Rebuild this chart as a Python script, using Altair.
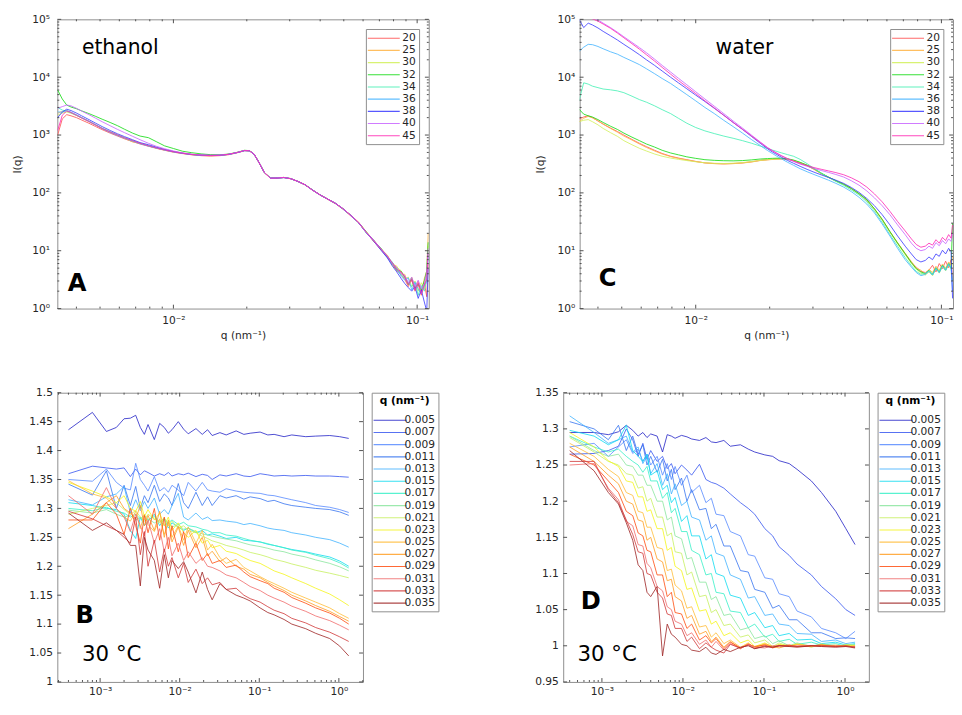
import altair as alt
import pandas as pd

FONT = "DejaVu Sans"
TXT = "#262626"
FRAME = "#8c8c8c"
TICK = "#4d4d4d"

# ---------------- data: SAXS curves (panels A, C) ----------------
Q = [0.00335, 0.0035, 0.00365, 0.0038, 0.004, 0.0042, 0.0045, 0.0048, 0.0051, 0.0055,
     0.0059, 0.0063, 0.0068, 0.0073, 0.0079, 0.0085, 0.0092, 0.01, 0.0109, 0.0119,
     0.013, 0.0142, 0.0155, 0.0169, 0.0183, 0.0196, 0.0205, 0.0214, 0.0224, 0.0236,
     0.025, 0.0266, 0.0284, 0.0303, 0.0324, 0.0347, 0.0372, 0.04, 0.043, 0.0462,
     0.0497, 0.0534, 0.0574, 0.0617, 0.0663, 0.0712, 0.0755, 0.079, 0.0825, 0.086,
     0.089, 0.092, 0.095, 0.098, 0.101, 0.104, 0.107, 0.1095, 0.111]

TEMPS = ["20", "25", "30", "32", "34", "36", "38", "40", "45"]
TEMP_COLORS = ["#ff5050", "#ffb446", "#d2f05a", "#14dc14", "#46f0b4",
               "#46b4ff", "#3c3cff", "#c864ff", "#ff28b4"]

ETHANOL = {
    "20": [1000, 1900, 2250, 2150, 2000, 1820, 1600, 1400, 1240, 1080,
           960, 860, 770, 700, 640, 590, 545, 505, 478, 455,
           440, 432, 440, 458, 495, 535, 530, 468, 338, 224,
           179, 181, 185, 175, 157, 137, 111, 92, 77, 65,
           52, 40, 30.5, 21, 14.5, 10.3, 7.6, 5.8, 4.5, 3.9,
           3.2, 2.4, 3.1, 2.0, 2.6, 1.7, 2.8, 1.6, 6],
    "25": [2400, 2550, 2650, 2450, 2200, 1980, 1720, 1480, 1290, 1120,
           990, 880, 760, 720, 655, 595, 550, 510, 482, 458,
           446, 440, 446, 466, 500, 542, 534, 472, 342, 226,
           181, 182, 185, 177, 159, 139, 112, 93, 78, 66,
           53, 41, 31.5, 21.5, 15.2, 10.8, 8.3, 6.0, 5.4, 4.0,
           3.9, 2.6, 3.5, 2.3, 3.0, 1.9, 3.3, 4.5, 20],
    "30": [2200, 2400, 2500, 2380, 2180, 1980, 1720, 1500, 1310, 1140,
           1010, 905, 805, 725, 655, 605, 560, 520, 488, 465,
           452, 446, 450, 466, 502, 540, 536, 470, 341, 225,
           180, 180, 184, 176, 158, 138, 112, 92, 78, 66,
           53, 41, 31, 21, 15.4, 10.2, 8.4, 5.6, 5.2, 4.5,
           3.3, 3.5, 2.4, 3.0, 2.0, 2.8, 2.2, 3.8, 12],
    "32": [6000, 4200, 3300, 3050, 2850, 2620, 2350, 2100, 1880, 1650,
           1450, 1260, 1080, 960, 900, 770, 650, 585, 525, 495,
           472, 458, 455, 470, 504, 545, 538, 472, 343, 226,
           181, 181, 185, 176, 158, 138, 113, 92, 78, 66,
           53, 41, 31, 21.5, 14.8, 10.9, 7.8, 6.3, 4.6, 4.4,
           3.5, 2.6, 3.3, 2.2, 2.7, 2.1, 3.0, 4.5, 14],
    "34": [3000, 2700, 2600, 2420, 2200, 1990, 1730, 1500, 1310, 1140,
           1000, 900, 800, 715, 645, 598, 552, 512, 484, 460,
           448, 443, 447, 464, 499, 539, 534, 469, 339, 225,
           180, 181, 184, 176, 158, 138, 112, 92, 78, 66,
           52, 41, 31, 20.5, 15, 10.4, 7.9, 6.4, 4.7, 3.8,
           3.4, 2.8, 2.4, 2.9, 1.7, 2.5, 2.0, 3.2, 9],
    "36": [2500, 2500, 2650, 2480, 2240, 2000, 1730, 1490, 1290, 1110,
           980, 880, 785, 710, 648, 598, 552, 512, 482, 460,
           447, 442, 446, 463, 498, 538, 533, 468, 340, 225,
           180, 180, 184, 176, 158, 138, 112, 92, 78, 66,
           53, 40.5, 30.5, 21, 15.3, 10.6, 7.7, 5.9, 5.1, 3.6,
           3.1, 3.4, 2.1, 2.8, 2.2, 1.8, 2.6, 2.8, 8],
    "38": [2000, 2500, 2800, 2650, 2400, 2150, 1850, 1600, 1400, 1200,
           1050, 940, 830, 740, 680, 620, 565, 520, 486, 462,
           449, 444, 447, 464, 499, 539, 534, 470, 341, 225,
           180, 180, 184, 176, 158, 138, 112, 92, 78, 66,
           53, 41, 31, 20.8, 14.7, 10.1, 7.5, 5.5, 4.3, 3.3,
           2.7, 2.3, 2.0, 2.4, 1.5, 2.1, 1.3, 0.9, 5],
    "40": [2900, 3100, 3300, 3200, 2900, 2600, 2250, 1950, 1700, 1450,
           1250, 1100, 950, 830, 720, 640, 580, 530, 492, 466,
           452, 446, 449, 466, 501, 541, 536, 471, 342, 226,
           180, 181, 185, 176, 158, 138, 112, 92, 78, 66,
           53, 41, 31, 21, 15, 10.7, 8.1, 6.1, 4.9, 4.1,
           3.7, 2.8, 3.5, 2.4, 3.1, 2.2, 2.7, 4.2, 11],
    "45": [1200, 2200, 2600, 2450, 2200, 1980, 1720, 1490, 1300, 1130,
           1000, 895, 800, 720, 650, 600, 554, 514, 484, 461,
           449, 444, 447, 465, 500, 540, 535, 470, 340, 225,
           180, 180, 184, 176, 158, 138, 112, 92, 78, 66,
           53, 41, 31, 21, 15.1, 10.5, 8.0, 6.2, 4.8, 4.3,
           3.5, 2.6, 3.2, 2.1, 2.8, 1.8, 2.5, 3.3, 9],
}

WATER = {
    "20": [1900, 2050, 2150, 2000, 1750, 1550, 1320, 1150, 1000, 840,
           720, 630, 545, 480, 430, 400, 375, 350, 330, 322,
           318, 322, 330, 345, 365, 375, 380, 385, 385, 380,
           360, 330, 295, 255, 215, 185, 160, 140, 118, 96,
           75, 52, 34, 21, 13.5, 8.8, 6.3, 5.2, 4.4, 4.2,
           4.6, 5.6, 4.3, 6.0, 4.9, 6.6, 5.1, 7.0, 3],
    "25": [1700, 1950, 2100, 1980, 1760, 1540, 1300, 1120, 960, 820,
           700, 610, 530, 470, 425, 395, 370, 348, 330, 320,
           316, 320, 328, 342, 362, 372, 378, 384, 386, 382,
           362, 332, 297, 257, 216, 186, 161, 141, 119, 97,
           76, 53, 35, 21.5, 13.8, 9.0, 6.5, 5.0, 4.6, 3.9,
           4.8, 4.2, 5.4, 4.6, 5.9, 5.0, 6.4, 5.5, 8],
    "30": [1700, 1800, 1850, 1700, 1500, 1300, 1100, 950, 800, 680,
           590, 530, 470, 430, 400, 380, 362, 345, 332, 325,
           322, 326, 334, 348, 366, 376, 381, 386, 387, 384,
           365, 335, 300, 260, 218, 187, 162, 141, 119, 96,
           75, 52, 34, 21, 13.2, 8.5, 6.0, 4.8, 4.1, 3.8,
           4.3, 3.7, 4.9, 4.1, 5.3, 4.5, 5.7, 4.8, 6],
    "32": [2800, 2300, 2150, 2050, 1850, 1650, 1420, 1250, 1080, 920,
           800, 700, 620, 545, 490, 455, 420, 395, 375, 365,
           360, 358, 362, 372, 385, 392, 395, 398, 397, 390,
           370, 338, 302, 262, 220, 188, 162, 141, 119, 97,
           76, 53, 35, 21.5, 13.6, 8.9, 6.2, 4.9, 4.3, 4.0,
           4.6, 3.9, 5.1, 4.3, 5.6, 4.7, 6.0, 5.0, 30],
    "34": [3900, 8000, 7600, 7000, 6600, 6250, 6050, 5800, 5400, 4700,
           4100, 3700, 3200, 2750, 2350, 1950, 1600, 1350, 1180, 1060,
           960, 880, 800, 720, 645, 585, 550, 520, 490, 460,
           430, 380, 320, 265, 220, 185, 158, 135, 112, 92,
           70, 48, 31, 19, 12, 7.6, 5.5, 4.4, 3.9, 4.1,
           4.5, 3.8, 5.0, 4.2, 5.5, 4.6, 6.0, 5.0, 3],
    "36": [28000, 33000, 37000, 36500, 34000, 31000, 27500, 25000, 22000, 19000,
           16500, 14000, 11500, 9500, 7800, 6300, 5000, 3900, 3000, 2350,
           1800, 1400, 1080, 830, 660, 540, 480, 430, 385, 340,
           300, 262, 232, 208, 186, 166, 146, 126, 105, 84,
           64, 45, 29, 18, 11, 7.0, 5.2, 4.2, 3.7, 3.9,
           4.4, 3.8, 4.9, 4.2, 5.4, 4.6, 5.8, 4.9, 2],
    "38": [100000, 72000, 86000, 80000, 71000, 62000, 52000, 44000, 37000, 30000,
           24500, 20000, 16000, 12800, 10000, 8000, 6300, 4900, 3800, 2900,
           2200, 1650, 1250, 940, 720, 580, 510, 460, 410, 365,
           325, 288, 255, 228, 205, 185, 166, 146, 124, 102,
           80, 60, 42, 28, 18, 12, 8.8, 7.0, 6.4, 6.8,
           7.8, 7.0, 8.8, 8.0, 10.2, 8.8, 11, 9.6, 1.5],
    "40": [130000, 125000, 118000, 110000, 98000, 86000, 72000, 60000, 50000, 40000,
           32500, 26500, 20500, 16000, 12300, 9600, 7400, 5600, 4200, 3150,
           2350, 1750, 1320, 990, 760, 610, 540, 485, 435, 390,
           350, 315, 288, 264, 244, 226, 208, 188, 162, 136,
           108, 82, 60, 42, 28, 19, 13.5, 11, 10, 10.5,
           12, 11, 13.8, 12.2, 15, 13.2, 16, 14.5, 20],
    "45": [115000, 112000, 108000, 102000, 93000, 83000, 70000, 58000, 48000, 38000,
           30500, 24500, 19000, 14800, 11300, 8800, 6800, 5200, 3900, 2950,
           2200, 1650, 1260, 960, 745, 600, 535, 482, 435, 392,
           355, 322, 296, 274, 256, 240, 224, 206, 182, 156,
           126, 96, 70, 48, 32, 22, 16, 12.8, 11.5, 12,
           13.5, 12.5, 15.5, 13.5, 17, 15, 19, 16.5, 28],
}

# ---------------- data: correlation functions (panels B, D) ----------------
TAU = [0.0004, 0.0008, 0.0012, 0.0016, 0.002, 0.0024, 0.0028, 0.0032, 0.0036, 0.004,
       0.0048, 0.0056, 0.0064, 0.0072, 0.008, 0.0096, 0.0112, 0.0128, 0.016, 0.0192,
       0.0224, 0.0256, 0.032, 0.0384, 0.0512, 0.064, 0.0768, 0.1024, 0.128, 0.1536,
       0.2048, 0.256, 0.384, 0.512, 0.768, 1.024, 1.33]

QS = ["0.005", "0.007", "0.009", "0.011", "0.013", "0.015", "0.017", "0.019",
      "0.021", "0.023", "0.025", "0.027", "0.029", "0.031", "0.033", "0.035"]
QS_COLORS = ["#2828c8", "#3c5af0", "#5a8cff", "#3c78f0", "#46b4ff", "#14dcf0",
             "#3cf0c8", "#8ce6a0", "#c8f064", "#f5f51e", "#ffbe3c", "#ffa028",
             "#ff5014", "#f06e6e", "#d23c3c", "#a02828"]

G2_ETHANOL = {
    "0.005": [1.436, 1.466, 1.433, 1.440, 1.455, 1.456, 1.461, 1.440, 1.428, 1.445,
              1.419, 1.447, 1.440, 1.430, 1.436, 1.450, 1.437, 1.429, 1.438, 1.428,
              1.436, 1.426, 1.431, 1.427, 1.434, 1.428, 1.430, 1.432, 1.427, 1.428,
              1.424, 1.427, 1.424, 1.425, 1.426, 1.424, 1.421],
    "0.007": [1.360, 1.373, 1.370, 1.368, 1.370, 1.355, 1.368, 1.358, 1.365, 1.362,
              1.356, 1.360, 1.357, 1.362, 1.356, 1.360, 1.358, 1.361, 1.355, 1.359,
              1.357, 1.350, 1.358, 1.356, 1.360, 1.356, 1.355, 1.360, 1.358, 1.356,
              1.357, 1.356, 1.357, 1.356, 1.356, 1.355, 1.354],
    "0.009": [1.350, 1.347, 1.368, 1.345, 1.335, 1.332, 1.378, 1.350, 1.340, 1.330,
              1.355, 1.330, 1.336, 1.328, 1.340, 1.332, 1.322, 1.345, 1.330, 1.345,
              1.332, 1.330, 1.328, 1.334, 1.330, 1.328, 1.327, 1.326, 1.323, 1.322,
              1.318, 1.315, 1.310, 1.305, 1.302, 1.298, 1.293],
    "0.011": [1.342, 1.323, 1.365, 1.300, 1.340, 1.305, 1.338, 1.300, 1.322, 1.310,
              1.340, 1.312, 1.325, 1.318, 1.305, 1.343, 1.310, 1.300, 1.328, 1.305,
              1.320, 1.305, 1.322, 1.318, 1.322, 1.316, 1.320, 1.317, 1.312, 1.314,
              1.308, 1.305, 1.302, 1.300, 1.298, 1.294, 1.288],
    "0.013": [1.315, 1.306, 1.320, 1.325, 1.338, 1.292, 1.315, 1.296, 1.312, 1.300,
              1.318, 1.290, 1.298, 1.290, 1.305, 1.326, 1.285, 1.280, 1.292, 1.281,
              1.285, 1.279, 1.280, 1.278, 1.276, 1.272, 1.274, 1.270, 1.266, 1.264,
              1.262, 1.258, 1.254, 1.250, 1.246, 1.240, 1.233],
    "0.015": [1.310, 1.305, 1.300, 1.298, 1.290, 1.262, 1.248, 1.285, 1.270, 1.278,
              1.290, 1.270, 1.282, 1.266, 1.275, 1.268, 1.262, 1.266, 1.258, 1.262,
              1.254, 1.256, 1.252, 1.248, 1.250, 1.245, 1.244, 1.242, 1.238, 1.236,
              1.232, 1.229, 1.225, 1.221, 1.216, 1.209, 1.200],
    "0.017": [1.300, 1.296, 1.302, 1.295, 1.292, 1.285, 1.290, 1.282, 1.288, 1.280,
              1.286, 1.276, 1.282, 1.275, 1.280, 1.272, 1.276, 1.270, 1.268, 1.264,
              1.262, 1.258, 1.258, 1.254, 1.252, 1.248, 1.245, 1.242, 1.239, 1.236,
              1.232, 1.228, 1.224, 1.219, 1.213, 1.206, 1.197],
    "0.019": [1.297, 1.292, 1.298, 1.290, 1.285, 1.288, 1.280, 1.284, 1.278, 1.282,
              1.275, 1.280, 1.270, 1.276, 1.268, 1.272, 1.264, 1.266, 1.260, 1.256,
              1.254, 1.252, 1.249, 1.247, 1.244, 1.240, 1.237, 1.234, 1.231, 1.228,
              1.225, 1.221, 1.216, 1.211, 1.205, 1.199, 1.192],
    "0.021": [1.290, 1.300, 1.305, 1.310, 1.298, 1.290, 1.296, 1.285, 1.280, 1.290,
              1.282, 1.276, 1.284, 1.270, 1.278, 1.266, 1.270, 1.262, 1.258, 1.252,
              1.248, 1.244, 1.240, 1.236, 1.232, 1.228, 1.224, 1.220, 1.216, 1.212,
              1.208, 1.204, 1.198, 1.193, 1.188, 1.184, 1.180],
    "0.023": [1.345, 1.330, 1.320, 1.310, 1.322, 1.300, 1.295, 1.312, 1.286, 1.298,
              1.280, 1.292, 1.270, 1.285, 1.262, 1.275, 1.258, 1.250, 1.262, 1.240,
              1.245, 1.232, 1.236, 1.226, 1.222, 1.215, 1.210, 1.205, 1.198, 1.192,
              1.186, 1.180, 1.170, 1.162, 1.152, 1.142, 1.132],
    "0.025": [1.348, 1.325, 1.318, 1.300, 1.285, 1.278, 1.295, 1.265, 1.290, 1.272,
              1.260, 1.282, 1.255, 1.276, 1.250, 1.270, 1.245, 1.268, 1.240, 1.262,
              1.228, 1.238, 1.215, 1.205, 1.212, 1.198, 1.192, 1.182, 1.175, 1.170,
              1.162, 1.155, 1.145, 1.138, 1.128, 1.118, 1.110],
    "0.027": [1.265, 1.290, 1.310, 1.322, 1.300, 1.292, 1.282, 1.305, 1.270, 1.288,
              1.262, 1.295, 1.250, 1.280, 1.242, 1.268, 1.236, 1.262, 1.232, 1.250,
              1.218, 1.226, 1.208, 1.215, 1.200, 1.195, 1.186, 1.180, 1.172, 1.166,
              1.158, 1.150, 1.140, 1.132, 1.122, 1.113, 1.105],
    "0.029": [1.280, 1.280, 1.310, 1.290, 1.255, 1.300, 1.270, 1.240, 1.288, 1.258,
              1.300, 1.245, 1.285, 1.230, 1.270, 1.225, 1.260, 1.215, 1.240, 1.210,
              1.222, 1.205, 1.210, 1.198, 1.202, 1.190, 1.182, 1.175, 1.170, 1.162,
              1.155, 1.146, 1.136, 1.128, 1.119, 1.110, 1.100],
    "0.031": [1.322, 1.290, 1.336, 1.300, 1.285, 1.260, 1.290, 1.270, 1.252, 1.280,
              1.240, 1.265, 1.225, 1.250, 1.218, 1.240, 1.210, 1.225, 1.205, 1.215,
              1.200, 1.198, 1.192, 1.185, 1.180, 1.172, 1.165, 1.158, 1.150, 1.145,
              1.138, 1.131, 1.122, 1.114, 1.106, 1.098, 1.090],
    "0.033": [1.295, 1.282, 1.270, 1.262, 1.250, 1.240, 1.285, 1.220, 1.260, 1.200,
              1.245, 1.190, 1.230, 1.200, 1.215, 1.180, 1.205, 1.172, 1.195, 1.170,
              1.180, 1.168, 1.172, 1.160, 1.162, 1.150, 1.144, 1.138, 1.130, 1.124,
              1.118, 1.110, 1.102, 1.094, 1.086, 1.078, 1.070],
    "0.035": [1.292, 1.262, 1.275, 1.262, 1.255, 1.236, 1.236, 1.166, 1.250, 1.228,
              1.210, 1.162, 1.220, 1.180, 1.210, 1.196, 1.208, 1.190, 1.154, 1.190,
              1.160, 1.142, 1.170, 1.160, 1.150, 1.145, 1.140, 1.128, 1.120, 1.116,
              1.108, 1.100, 1.092, 1.084, 1.075, 1.062, 1.045],
}

G2_WATER = {
    "0.005": [1.295, 1.295, 1.292, 1.296, 1.305, 1.298, 1.290, 1.295, 1.288, 1.293,
              1.290, 1.268, 1.292, 1.290, 1.287, 1.291, 1.289, 1.286, 1.284, 1.288,
              1.282, 1.281, 1.284, 1.276, 1.278, 1.272, 1.268, 1.264, 1.262, 1.256,
              1.252, 1.244, 1.228, 1.212, 1.186, 1.162, 1.140],
    "0.007": [1.265, 1.266, 1.270, 1.276, 1.300, 1.285, 1.262, 1.280, 1.258, 1.270,
              1.255, 1.262, 1.245, 1.252, 1.238, 1.250, 1.243, 1.236, 1.251, 1.230,
              1.226, 1.224, 1.218, 1.210, 1.198, 1.190, 1.182, 1.162, 1.152, 1.137,
              1.125, 1.113, 1.098, 1.082, 1.065, 1.050, 1.042],
    "0.009": [1.275, 1.280, 1.262, 1.275, 1.285, 1.266, 1.272, 1.255, 1.265, 1.250,
              1.262, 1.236, 1.252, 1.230, 1.248, 1.222, 1.236, 1.212, 1.222, 1.198,
              1.204, 1.182, 1.180, 1.158, 1.152, 1.126, 1.124, 1.094, 1.092, 1.072,
              1.068, 1.048, 1.040, 1.024, 1.018, 1.010, 1.020],
    "0.011": [1.310, 1.300, 1.285, 1.305, 1.270, 1.290, 1.265, 1.278, 1.250, 1.262,
              1.240, 1.258, 1.228, 1.244, 1.216, 1.232, 1.200, 1.216, 1.188, 1.190,
              1.162, 1.168, 1.138, 1.138, 1.104, 1.102, 1.078, 1.074, 1.052, 1.056,
              1.036, 1.036, 1.018, 1.018, 1.010, 1.011, 1.010],
    "0.013": [1.318, 1.295, 1.280, 1.285, 1.290, 1.268, 1.275, 1.252, 1.262, 1.238,
              1.252, 1.222, 1.238, 1.210, 1.224, 1.194, 1.200, 1.178, 1.174, 1.146,
              1.152, 1.128, 1.124, 1.098, 1.092, 1.066, 1.068, 1.042, 1.044, 1.030,
              1.028, 1.017, 1.016, 1.006, 1.008, 1.003, 1.005],
    "0.015": [1.298, 1.290, 1.278, 1.285, 1.305, 1.270, 1.262, 1.255, 1.265, 1.236,
              1.242, 1.216, 1.222, 1.198, 1.205, 1.172, 1.180, 1.152, 1.152, 1.120,
              1.126, 1.100, 1.096, 1.070, 1.066, 1.042, 1.046, 1.025, 1.028, 1.014,
              1.017, 1.008, 1.009, 1.003, 1.005, 1.001, 1.003],
    "0.017": [1.290, 1.275, 1.268, 1.272, 1.262, 1.255, 1.250, 1.240, 1.248, 1.228,
              1.228, 1.204, 1.212, 1.184, 1.190, 1.158, 1.158, 1.132, 1.126, 1.098,
              1.100, 1.074, 1.072, 1.048, 1.046, 1.025, 1.030, 1.012, 1.016, 1.006,
              1.009, 1.002, 1.005, 1.001, 1.003, 0.999, 1.002],
    "0.019": [1.290, 1.270, 1.262, 1.265, 1.250, 1.248, 1.236, 1.236, 1.222, 1.222,
              1.200, 1.200, 1.174, 1.178, 1.152, 1.148, 1.120, 1.122, 1.088, 1.088,
              1.064, 1.068, 1.042, 1.044, 1.022, 1.025, 1.010, 1.014, 1.003, 1.007,
              1.000, 1.004, 0.999, 1.003, 0.999, 1.002, 1.001],
    "0.021": [1.288, 1.268, 1.255, 1.250, 1.238, 1.236, 1.218, 1.220, 1.200, 1.204,
              1.178, 1.178, 1.152, 1.156, 1.130, 1.128, 1.098, 1.102, 1.068, 1.070,
              1.046, 1.050, 1.028, 1.030, 1.012, 1.015, 1.004, 1.008, 0.999, 1.004,
              0.999, 1.003, 0.998, 1.002, 0.999, 1.001, 1.001],
    "0.023": [1.295, 1.275, 1.256, 1.248, 1.228, 1.226, 1.206, 1.206, 1.186, 1.188,
              1.162, 1.162, 1.132, 1.136, 1.110, 1.104, 1.078, 1.080, 1.048, 1.050,
              1.030, 1.034, 1.014, 1.018, 1.004, 1.008, 0.999, 1.004, 0.998, 1.002,
              1.000, 1.002, 0.999, 1.001, 0.999, 1.001, 1.000],
    "0.025": [1.280, 1.262, 1.244, 1.234, 1.212, 1.208, 1.186, 1.184, 1.164, 1.164,
              1.136, 1.134, 1.104, 1.106, 1.084, 1.076, 1.052, 1.054, 1.026, 1.028,
              1.012, 1.018, 1.003, 1.008, 0.998, 1.004, 0.997, 1.003, 0.999, 1.001,
              0.999, 1.002, 1.000, 1.000, 1.001, 0.999, 1.000],
    "0.027": [1.275, 1.255, 1.236, 1.224, 1.200, 1.196, 1.174, 1.172, 1.146, 1.150,
              1.120, 1.116, 1.090, 1.092, 1.068, 1.062, 1.038, 1.042, 1.016, 1.020,
              1.006, 1.012, 0.998, 1.006, 0.996, 1.003, 0.998, 1.002, 0.999, 0.997,
              1.001, 0.999, 1.000, 1.001, 1.000, 0.999, 0.999],
    "0.029": [1.265, 1.250, 1.228, 1.212, 1.186, 1.180, 1.156, 1.152, 1.132, 1.130,
              1.098, 1.098, 1.068, 1.074, 1.046, 1.044, 1.024, 1.030, 1.008, 1.014,
              1.004, 1.010, 0.996, 1.005, 0.997, 1.002, 0.999, 1.001, 0.997, 1.000,
              1.001, 0.999, 1.000, 1.001, 0.999, 1.000, 0.998],
    "0.031": [1.250, 1.252, 1.218, 1.202, 1.172, 1.166, 1.140, 1.138, 1.114, 1.108,
              1.082, 1.076, 1.054, 1.050, 1.034, 1.030, 1.014, 1.018, 1.002, 1.008,
              0.998, 1.006, 0.994, 1.003, 0.996, 1.002, 0.998, 0.997, 1.000, 1.000,
              0.999, 1.000, 1.000, 0.999, 1.000, 0.999, 0.999],
    "0.033": [1.255, 1.255, 1.216, 1.198, 1.174, 1.154, 1.130, 1.128, 1.100, 1.098,
              1.074, 1.066, 1.044, 1.042, 1.024, 1.024, 1.006, 1.012, 0.996, 1.004,
              0.998, 0.994, 0.990, 1.002, 0.997, 1.001, 0.996, 1.000, 0.998, 1.000,
              1.000, 0.999, 1.000, 1.000, 0.999, 1.000, 0.998],
    "0.035": [1.270, 1.242, 1.212, 1.196, 1.170, 1.146, 1.112, 1.104, 1.074, 1.068,
              1.082, 0.986, 1.030, 1.016, 1.012, 1.002, 1.000, 0.994, 0.992, 0.998,
              0.990, 0.988, 0.995, 0.992, 0.998, 1.000, 0.996, 0.999, 0.998, 1.000,
              0.999, 0.998, 1.000, 0.999, 0.998, 0.999, 0.997],
}

B_YTICKS = [1.0, 1.05, 1.1, 1.15, 1.2, 1.25, 1.3, 1.35, 1.4, 1.45, 1.5]
D_YTICKS = [0.95, 1.0, 1.05, 1.1, 1.15, 1.2, 1.25, 1.3, 1.35]

# annotations (positions in data units of each panel)
NOTES_A = [{"q": 0.00605, "I": 31800, "t": "ethanol", "kind": "name"},
           {"q": 0.00403, "I": 2.69, "t": "A", "kind": "letter"}]
NOTES_C = [{"q": 0.0158, "I": 31800, "t": "water", "kind": "name"},
           {"q": 0.00438, "I": 3.3, "t": "C", "kind": "letter"}]
NOTES_B = [{"tau": 0.00064, "g2": 1.1145, "t": "B", "kind": "letter"},
           {"tau": 0.0014, "g2": 1.0477, "t": "30 °C", "kind": "name"}]
NOTES_D = [{"tau": 0.00073, "g2": 1.0617, "t": "D", "kind": "letter"},
           {"tau": 0.00116, "g2": 0.988, "t": "30 °C", "kind": "name"}]


# ---------------- helpers ----------------
def long_table(xs, series, xname, yname, key):
    rows = []
    for k, vals in series.items():
        assert len(vals) == len(xs), (k, len(vals), len(xs))
        for x, v in zip(xs, vals):
            rows.append({xname: x, yname: v, key: k})
    return pd.DataFrame(rows)


def log_ticks(lo, hi):
    major = [10.0 ** e for e in range(-5, 7) if lo <= 10.0 ** e <= hi]
    minor = [m * 10.0 ** e for e in range(-5, 7) for m in range(2, 10)
             if lo <= m * 10.0 ** e <= hi]
    return major, minor


SUP = ("{'-4':'⁻⁴','-3':'⁻³','-2':'⁻²','-1':'⁻¹','0':'⁰','1':'¹',"
       "'2':'²','3':'³','4':'⁴','5':'⁵'}")
POW_LABEL = "'10' + " + SUP + "[''+round(log(datum.value)/LN10)]"


def panel(df, xf, yf, cf, xdom, ydom, ylog, xaxis, yaxis, cdom, crange, legend,
          W, H, yticks, notes, name_size):
    xs = alt.Scale(type="log", domain=xdom, nice=False)
    ys = (alt.Scale(type="log", domain=ydom, nice=False) if ylog
          else alt.Scale(domain=ydom, nice=False, zero=False))
    X = alt.X(f"{xf}:Q", scale=xs, axis=xaxis)
    Y = alt.Y(f"{yf}:Q", scale=ys, axis=yaxis)
    lines = alt.Chart(df).mark_line(strokeWidth=1, opacity=0.85, clip=True).encode(
        x=X, y=Y,
        color=alt.Color(f"{cf}:N", scale=alt.Scale(domain=cdom, range=crange),
                        sort=cdom, legend=legend),
    )
    layers = [lines]
    xmaj, xmin = log_ticks(*xdom)
    if ylog:
        ymaj, ymin = log_ticks(*ydom)
    else:
        ymaj, ymin = yticks, []
    for vals, L in ((xmaj, 4), (xmin, 2)):
        if vals:
            base = alt.Chart(pd.DataFrame({xf: vals})).mark_rule(color=TICK, strokeWidth=1)
            layers.append(base.encode(x=X, y=alt.value(H), y2=alt.value(H - L)))
            layers.append(base.encode(x=X, y=alt.value(0), y2=alt.value(L)))
    for vals, L in ((ymaj, 4), (ymin, 2)):
        if vals:
            base = alt.Chart(pd.DataFrame({yf: vals})).mark_rule(color=TICK, strokeWidth=1)
            layers.append(base.encode(y=Y, x=alt.value(0), x2=alt.value(L)))
            layers.append(base.encode(y=Y, x=alt.value(W), x2=alt.value(W - L)))
    nd = pd.DataFrame(notes)
    for kind, size, weight in (("name", name_size, "normal"), ("letter", 25, "bold")):
        sub = nd[nd["kind"] == kind]
        if len(sub):
            layers.append(alt.Chart(sub).mark_text(
                font=FONT, fontSize=size, fontWeight=weight, color="black",
                align="center", baseline="middle"
            ).encode(x=X, y=Y, text="t:N"))
    return alt.layer(*layers).properties(width=W, height=H)


def top_axes(title_pad, label_pad):
    xa = alt.Axis(values=[0.01, 0.1], labelExpr=POW_LABEL, title="q (nm⁻¹)",
                  labelPadding=6, titlePadding=5, labelFlush=False)
    ya = alt.Axis(values=[1, 10, 100, 1000, 10000, 100000], labelExpr=POW_LABEL,
                  title="I(q)", labelPadding=label_pad, titlePadding=title_pad,
                  labelFlush=False)
    return xa, ya


def bottom_axes(vals):
    xa = alt.Axis(values=[0.001, 0.01, 0.1, 1], labelExpr=POW_LABEL, title=None,
                  labelPadding=4, labelFlush=False)
    ya = alt.Axis(values=vals, format=".2~f", title=None, labelPadding=5,
                  labelFlush=False)
    return xa, ya


def temp_legend():
    return alt.Legend(title=None, orient="top-right", offset=10,
                      symbolType="M-3,0H3", symbolSize=121, symbolStrokeWidth=1.2,
                      symbolOffset=9, labelOffset=12.5, rowPadding=0.6, padding=3,
                      strokeColor=FRAME, fillColor="white", cornerRadius=0,
                      labelFontSize=11, labelColor=TXT, labelFont=FONT)


def q_legend(path, sym_off, lab_off):
    return alt.Legend(title="q (nm⁻¹)", orient="right", offset=9,
                      titleFontWeight="bold", titleFontSize=11, titleFont=FONT,
                      titleColor="black", titleAnchor="middle", titlePadding=8,
                      symbolType=path, symbolSize=121, symbolStrokeWidth=1.2,
                      symbolOffset=sym_off, labelOffset=lab_off, rowPadding=0.6,
                      padding=3, strokeColor=FRAME, fillColor="white", cornerRadius=0,
                      labelFontSize=11, labelColor=TXT, labelFont=FONT)


# ---------------- panels ----------------
dfA = long_table(Q, ETHANOL, "q", "I", "T")
dfC = long_table(Q, WATER, "q", "I", "T")
dfB = long_table(TAU, G2_ETHANOL, "tau", "g2", "qv")
dfD = long_table(TAU, G2_WATER, "tau", "g2", "qv")

xa, ya = top_axes(10, 8)
pA = panel(dfA, "q", "I", "T", [0.00334, 0.1116], [1, 100000], True, xa, ya,
           TEMPS, TEMP_COLORS, temp_legend(), 384, 299, None, NOTES_A, 21)
xa, ya = top_axes(12, 5)
pC = panel(dfC, "q", "I", "T", [0.00337, 0.1115], [1, 100000], True, xa, ya,
           TEMPS, TEMP_COLORS, temp_legend(), 386, 299, None, NOTES_C, 21)
xa, ya = bottom_axes(B_YTICKS)
pB = panel(dfB, "tau", "g2", "qv", [0.00029, 2.01], [1.0, 1.5], False, xa, ya,
           QS, QS_COLORS, q_legend("M-3.1,0H3.1", 9.5, 8.5), 316, 299, B_YTICKS,
           NOTES_B, 22)
xa, ya = bottom_axes(D_YTICKS)
pD = panel(dfD, "tau", "g2", "qv", [0.000333, 1.97], [0.95, 1.35], False, xa, ya,
           QS, QS_COLORS, q_legend("M-3.1,0H3.1", 9.5, 8.5), 316, 299, D_YTICKS,
           NOTES_D, 22)

chart = (
    alt.concat(pA, pC, pB, pD, columns=2, align="none", bounds="full",
               spacing={"row": 46, "column": 98})
    .resolve_scale(color="independent")
    .resolve_legend(color="independent")
    .properties(padding={"left": 3, "top": -7, "right": 0, "bottom": -7})
    .configure_view(stroke=FRAME, strokeWidth=1)
    .configure_axis(labelFont=FONT, titleFont=FONT, labelFontSize=11, titleFontSize=11,
                    labelColor=TXT, titleColor=TXT, titleFontWeight="normal",
                    grid=False, ticks=False, domain=False)
    .configure_legend(labelFont=FONT, titleFont=FONT)
)

chart.save("out.html", embed_options={"renderer": "svg", "actions": False})
